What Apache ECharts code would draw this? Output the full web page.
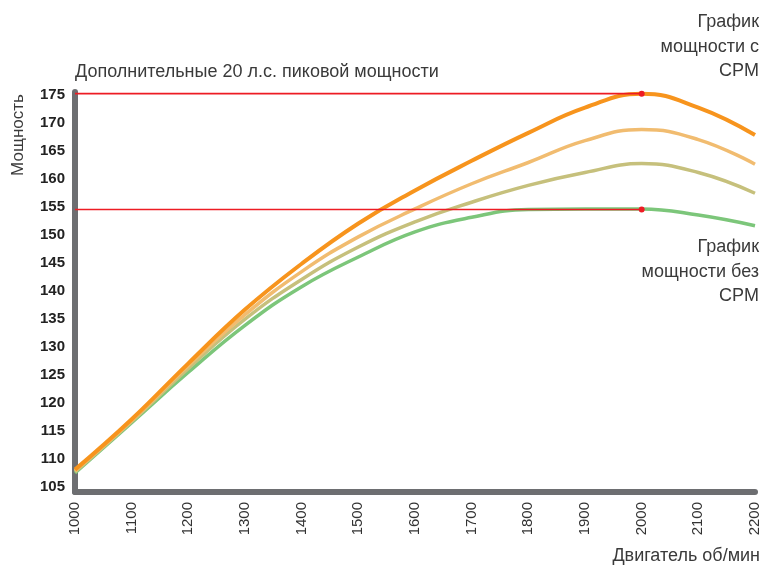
<!DOCTYPE html>
<html>
<head>
<meta charset="utf-8">
<script src="https://cdn.jsdelivr.net/npm/echarts@6/dist/echarts.min.js"></script>
<style>
  html, body { margin: 0; padding: 0; background: #fff; }
  #chart { width: 763px; height: 566px; }
</style>
</head>
<body>
<div id="chart"></div>
<script>
  // обороты двигателя
  var rpm = [1000, 1100, 1200, 1300, 1400, 1500, 1600, 1700, 1800, 1900, 2000, 2100, 2200]
  // мощность, четыре кривые (сверху вниз)
  var powerCpm = [108.0, 117.0, 127.0, 136.6, 144.8, 152.0, 157.9, 163.2, 168.2, 172.7, 175.2, 172.7, 167.8]
  var powerLight = [107.8, 116.8, 126.6, 135.7, 143.4, 149.6, 154.6, 159.1, 162.9, 166.8, 168.8, 167.0, 162.6]
  var powerOlive = [107.6, 116.6, 126.1, 134.9, 142.0, 147.8, 152.3, 155.8, 158.8, 161.1, 162.7, 161.1, 157.4]
  var powerStock = [107.4, 116.4, 125.4, 133.8, 140.7, 146.0, 150.5, 153.1, 154.5, 154.6, 154.6, 153.5, 151.6]
  var yTicks = [105, 110, 115, 120, 125, 130, 135, 140, 145, 150, 155, 160, 165, 170, 175]
  var peakCpm = [[1000, 175.2], [2000, 175.2]]
  var peakStock = [[1000, 154.5], [2000, 154.5]]

  function pairs (ys) {
    return rpm.map(function (x, i) { return [x, ys[i]] })
  }

  function curve (name, ys, color, width) {
    return {
      name: name,
      type: 'line',
      smooth: 0.45,
      showSymbol: false,
      lineStyle: { color: color, width: width },
      data: pairs(ys),
      z: 3
    }
  }

  function redLine (data) {
    return {
      type: 'line',
      data: data,
      symbol: 'circle',
      symbolSize: function (v, p) { return p.dataIndex === 1 ? 6 : 0 },
      itemStyle: { color: '#ed1c24' },
      lineStyle: { color: '#ed1c24', width: 1.7 },
      z: 5
    }
  }

  var chart = echarts.init(document.getElementById('chart'))
  var txt = { fontFamily: 'Liberation Sans, Arial, sans-serif', fontSize: 18, fill: '#3a3a3a' }
  chart.setOption({
    animation: false,
    grid: { left: 75, right: 8, top: 92, bottom: 74 },
    xAxis: {
      type: 'value',
      min: 1000,
      max: 2200,
      interval: 100,
      axisLine: { show: true, lineStyle: { color: '#6d6e71', width: 6 } },
      axisTick: { show: false },
      splitLine: { show: false },
      axisLabel: {
        rotate: 90,
        margin: 10,
        fontSize: 15,
        color: '#333',
        fontFamily: 'Liberation Sans, Arial, sans-serif',
        formatter: function (v) { return String(v) }
      }
    },
    yAxis: {
      type: 'value',
      min: 104,
      max: 175.5,
      axisLine: { show: true, lineStyle: { color: '#6d6e71', width: 6 } },
      axisTick: { show: false },
      splitLine: { show: false },
      axisLabel: {
        customValues: yTicks,
        margin: 10,
        fontSize: 15,
        fontWeight: 'bold',
        color: '#222',
        fontFamily: 'Liberation Sans, Arial, sans-serif'
      }
    },
    series: [
      curve('stock', powerStock, '#7cc67a', 3.5),
      curve('olive', powerOlive, '#c6c07c', 3.5),
      curve('light', powerLight, '#f1bc70', 3.5),
      curve('cpm', powerCpm, '#f7941d', 4),
      redLine(peakCpm),
      redLine(peakStock)
    ],
    graphic: [
      { type: 'text', x: 75, y: 72,
        style: Object.assign({ text: 'Дополнительные 20 л.с. пиковой мощности', verticalAlign: 'middle' }, txt) },
      { type: 'text', x: 18, y: 135, rotation: Math.PI / 2,
        style: Object.assign({ text: 'Мощность', align: 'center', verticalAlign: 'middle' }, txt, { fontSize: 17 }) },
      { type: 'text', x: 760, y: 556,
        style: Object.assign({ text: 'Двигатель об/мин', align: 'right', verticalAlign: 'middle' }, txt) },
      { type: 'text', x: 759, y: 47,
        style: Object.assign({ text: 'График\nмощности с\nCPM', align: 'right', verticalAlign: 'middle', lineHeight: 24.5 }, txt) },
      { type: 'text', x: 759, y: 272,
        style: Object.assign({ text: 'График\nмощности без\nCPM', align: 'right', verticalAlign: 'middle', lineHeight: 24.5 }, txt) }
    ]
  })
</script>
</body>
</html>
